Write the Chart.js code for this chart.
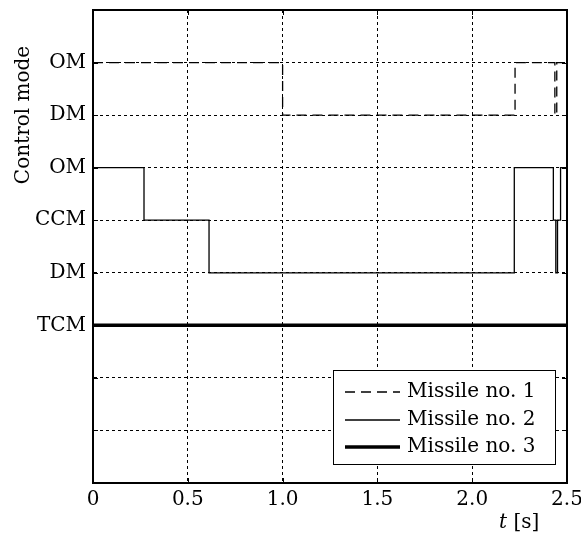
<!DOCTYPE html>
<html lang="en">
<head>
  <meta charset="UTF-8">
  <title>Control mode</title>
  <script src="https://cdn.jsdelivr.net/npm/chart.js"></script>
  <style>
    html, body { margin: 0; padding: 0; background: #fff; }
    #wrap { width: 581px; height: 536px; }
  </style>
</head>
<body>
  <div id="wrap"><canvas id="modeChart" width="581" height="536"></canvas></div>
  <script>
    // switching times [s] and mode levels (stepped: value holds until next time)
    const m1Times = [0, 1.0, 2.226, 2.436, 2.446, 2.5];
    const m1Modes = [8, 7, 8, 7, 8, 8];
    const m2Times = [0, 0.269, 0.612, 2.222, 2.428, 2.441, 2.450, 2.466, 2.5];
    const m2Modes = [6, 5, 4, 6, 5, 4, 5, 6, 6];
    const m3Times = [0, 2.5];
    const m3Modes = [3, 3];

    const seriesNames = ['Missile no. 1', 'Missile no. 2', 'Missile no. 3'];
    const modeLabels = { 8: 'OM', 7: 'DM', 6: 'OM', 5: 'CCM', 4: 'DM', 3: 'TCM' };
    const xTicks = [0, 0.5, 1.0, 1.5, 2.0, 2.5];

    const FONT = '"DejaVu Serif", "Liberation Serif", serif';
    const FS = 20;

    function pts(ts, ys) { return ts.map((t, i) => ({ x: t, y: ys[i] })); }

    // frame, small inward tick marks, axis titles and the boxed legend
    const decor = {
      id: 'decor',
      beforeDraw(chart) {
        const c = chart.ctx;
        c.save();
        c.fillStyle = '#fff';
        c.fillRect(0, 0, chart.width, chart.height);
        c.restore();
      },
      afterDraw(chart) {
        const c = chart.ctx;
        const a = chart.chartArea;
        const xs = chart.scales.x, ys = chart.scales.y;
        c.save();
        c.strokeStyle = '#000';
        c.lineWidth = 2;
        c.strokeRect(a.left, a.top, a.right - a.left, a.bottom - a.top);

        c.lineWidth = 1;
        c.beginPath();
        xTicks.slice(1, -1).forEach(v => {
          const px = Math.round(xs.getPixelForValue(v)) + 0.5;
          c.moveTo(px, a.bottom); c.lineTo(px, a.bottom - 5);
          c.moveTo(px, a.top); c.lineTo(px, a.top + 5);
        });
        for (let v = 1; v <= 8; v++) {
          const py = Math.round(ys.getPixelForValue(v)) + 0.5;
          c.moveTo(a.left, py); c.lineTo(a.left + 5, py);
          c.moveTo(a.right, py); c.lineTo(a.right - 5, py);
        }
        c.stroke();

        // y title
        c.fillStyle = '#000';
        c.font = FS + 'px ' + FONT;
        c.textAlign = 'center';
        c.textBaseline = 'middle';
        c.save();
        c.translate(24, 115);
        c.rotate(-Math.PI / 2);
        c.fillText('Control mode', 0, 0);
        c.restore();

        // x title: t [s]
        c.textAlign = 'left';
        c.textBaseline = 'alphabetic';
        c.font = 'italic ' + FS + 'px ' + FONT;
        c.fillText('t', 499, 528);
        const tw = c.measureText('t').width;
        c.font = FS + 'px ' + FONT;
        c.fillText(' [s]', 499 + tw, 528);

        // legend
        const bx = 333, by = 370, bw = 222, bh = 94;
        c.fillStyle = '#fff';
        c.fillRect(bx, by, bw, bh);
        c.strokeStyle = '#000';
        c.lineWidth = 1;
        c.strokeRect(bx + 0.5, by + 0.5, bw, bh);
        const rows = [392, 420, 447];
        chart.data.datasets.forEach((ds, i) => {
          c.beginPath();
          c.setLineDash(ds.borderDash || []);
          c.lineWidth = ds.borderWidth;
          c.strokeStyle = ds.borderColor;
          c.moveTo(345, rows[i]); c.lineTo(400, rows[i]);
          c.stroke();
          c.setLineDash([]);
          c.fillStyle = '#000';
          c.font = FS + 'px ' + FONT;
          c.textBaseline = 'middle';
          c.fillText(ds.label, 407, rows[i]);
        });
        c.restore();
      }
    };

    function gridOpts(last) {
      return {
        display: true,
        color: ctx => (ctx.tick && (ctx.tick.value <= 0 || ctx.tick.value >= last)) ? 'rgba(0,0,0,0)' : '#000',
        lineWidth: 1,
        drawTicks: false
      };
    }

    const chart = new Chart(document.getElementById('modeChart'), {
      type: 'line',
      data: {
        datasets: [
          { label: seriesNames[0], data: pts(m1Times, m1Modes), borderColor: '#000', borderWidth: 1.3, borderDash: [10, 6], stepped: 'before', pointRadius: 0, fill: false },
          { label: seriesNames[1], data: pts(m2Times, m2Modes), borderColor: '#000', borderWidth: 1.3, stepped: 'before', pointRadius: 0, fill: false },
          { label: seriesNames[2], data: pts(m3Times, m3Modes), borderColor: '#000', borderWidth: 3.5, stepped: 'before', pointRadius: 0, fill: false }
        ]
      },
      options: {
        responsive: false,
        animation: false,
        events: [],
        layout: { padding: { left: 0, right: 14, top: 10, bottom: 0 } },
        plugins: { legend: { display: false }, tooltip: { enabled: false } },
        scales: {
          x: {
            type: 'linear', min: 0, max: 2.5,
            afterBuildTicks: s => { s.ticks = xTicks.map(v => ({ value: v })); },
            ticks: {
              font: { family: FONT, size: FS }, color: '#000', padding: 5, maxRotation: 0,
              callback: v => v === 0 ? '0' : v.toFixed(1)
            },
            grid: gridOpts(2.5),
            border: { display: true, color: '#000', width: 2, dash: [3, 3] },
            afterFit: s => { s.height = 53; s.paddingLeft = 0; s.paddingRight = 0; }
          },
          y: {
            type: 'linear', min: 0, max: 9,
            ticks: {
              stepSize: 1, font: { family: FONT, size: FS }, color: '#000', padding: 7,
              callback: v => modeLabels[v] || ''
            },
            grid: gridOpts(9),
            border: { display: true, color: '#000', width: 2, dash: [3, 3] },
            afterFit: s => { s.width = 93; s.paddingTop = 0; s.paddingBottom = 0; }
          }
        }
      },
      plugins: [decor]
    });
  </script>
</body>
</html>
